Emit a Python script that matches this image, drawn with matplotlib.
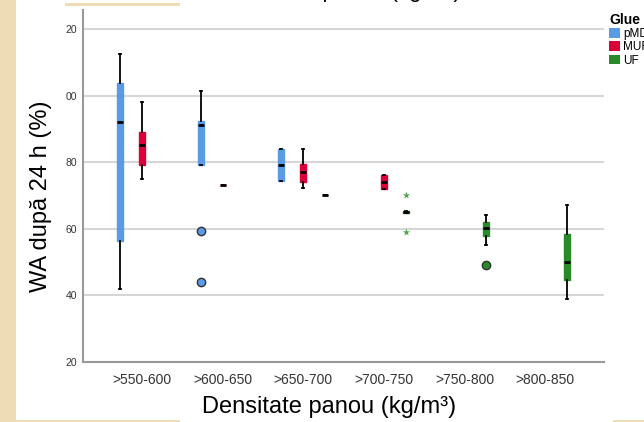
import matplotlib.pyplot as plt
from matplotlib.patches import Patch, Rectangle

plt.rcParams['font.family'] = ['Liberation Sans', 'DejaVu Sans']

# Categorii densitate
categories = ['>550-600', '>600-650', '>650-700', '>700-750', '>750-800', '>800-850']
ytick_vals = [20, 40, 60, 80, 100, 120]
ytick_text = ['20', '40', '60', '80', '00', '20']   # asa apar in imagine (cifra taiata)

# pMDI: categorie, min, q1, mediana, q3, max
pmdi_cat = [0, 1, 2]
pmdi_lo = [42.0, 79.3, 74.3]
pmdi_q1 = [56.4, 79.3, 74.3]
pmdi_med = [92.1, 91.1, 79.1]
pmdi_q3 = [103.7, 92.3, 83.9]
pmdi_hi = [112.6, 101.3, 83.9]
pmdi_out = [[], [59.2, 44.0], []]

# MUF
muf_cat = [0, 1, 2, 3]
muf_lo = [75.1, 73.1, 72.1, 72.0]
muf_q1 = [79.3, 73.1, 74.1, 72.0]
muf_med = [85.1, 73.1, 77.0, 74.1]
muf_q3 = [89.0, 73.1, 79.5, 76.1]
muf_hi = [98.1, 73.1, 84.1, 76.1]
muf_out = [[], [], [], []]

# UF
uf_cat = [2, 3, 4, 5]
uf_lo = [70.0, 64.6, 55.1, 39.0]
uf_q1 = [70.0, 64.6, 57.7, 44.6]
uf_med = [70.0, 65.0, 60.1, 50.0]
uf_q3 = [70.0, 65.3, 61.9, 58.4]
uf_hi = [70.0, 65.3, 64.1, 67.1]
uf_out = [[], [], [49.0], []]
uf_extreme_cat = [3, 3]
uf_extreme = [70.0, 59.1]

glues = ['pMDI', 'MUF', 'UF']
colors = {'pMDI': '#5A9BE6', 'MUF': '#DC0038', 'UF': '#2A8A2A'}
offsets = {'pMDI': -0.27, 'MUF': 0.0, 'UF': 0.27}

fig = plt.figure(figsize=(6.44, 4.22), dpi=100)
fig.patch.set_facecolor('#EEDCB4')
# zona alba a capturii
fig.patches.append(Rectangle((16 / 644, 2 / 422), 1 - 16 / 644, 1 - 2 / 422,
                             transform=fig.transFigure, facecolor='white',
                             edgecolor='none', zorder=-2))
fig.patches.append(Rectangle((65 / 644, 1 - 6 / 422), 115 / 644, 3 / 422,
                             transform=fig.transFigure, facecolor='#EEDCB4',
                             edgecolor='none', zorder=-1))
fig.patches.append(Rectangle((180 / 644, 0), 433 / 644, 2 / 422,
                             transform=fig.transFigure, facecolor='white',
                             edgecolor='none', zorder=-1))

ax = fig.add_axes([83 / 644, 60 / 422, 521 / 644, 352 / 422])
ax.set_facecolor('none')


def draw(glue, cats, lo, q1, med, q3, hi, out):
    stats = []
    for i in range(len(cats)):
        stats.append({'whislo': lo[i], 'q1': q1[i], 'med': med[i], 'q3': q3[i],
                      'whishi': hi[i], 'fliers': out[i]})
    pos = [c + offsets[glue] for c in cats]
    col = colors[glue]
    ax.bxp(stats, positions=pos, widths=0.075, patch_artist=True,
           showfliers=True, capwidths=0.025,
           boxprops=dict(facecolor=col, edgecolor=col, linewidth=1),
           medianprops=dict(color='black', linewidth=2),
           whiskerprops=dict(color='black', linewidth=1.3),
           capprops=dict(color='black', linewidth=1.3),
           flierprops=dict(marker='o', markerfacecolor=col, markeredgecolor='#333333',
                           markersize=6, markeredgewidth=1),
           zorder=3)


draw('pMDI', pmdi_cat, pmdi_lo, pmdi_q1, pmdi_med, pmdi_q3, pmdi_hi, pmdi_out)
draw('MUF', muf_cat, muf_lo, muf_q1, muf_med, muf_q3, muf_hi, muf_out)
draw('UF', uf_cat, uf_lo, uf_q1, uf_med, uf_q3, uf_hi, uf_out)

ax.scatter([c + offsets['UF'] for c in uf_extreme_cat], uf_extreme, marker='*',
           s=30, color='#4CA64C', linewidths=0, zorder=4)

ax.set_xlim(-0.73, 5.73)
ax.set_ylim(20, 125.7)
ax.set_xticks(range(len(categories)))
ax.set_xticklabels(categories, fontsize=10, color='#333333')
ax.set_yticks(ytick_vals)
ax.set_yticklabels(ytick_text, fontsize=7.5, color='#333333')
ax.tick_params(length=0, pad=4)
ax.tick_params(axis='x', pad=8)
for y in ytick_vals[1:]:
    ax.axhline(y, color='#D6D6D6', linewidth=1.5, zorder=1)

for s in ['top', 'right']:
    ax.spines[s].set_visible(False)
ax.spines['left'].set_color('#999999')
ax.spines['bottom'].set_color('#999999')
ax.spines['left'].set_linewidth(1.5)
ax.spines['bottom'].set_linewidth(1.5)

fig.text(41 / 644, 1 - 196 / 422, 'WA după 24 h (%)', rotation=90, fontsize=17,
         ha='center', va='center')
fig.text(329.5 / 644, 1 - 407 / 422, 'Densitate panou (kg/m³)', fontsize=17,
         ha='center', va='center')
# titlul, aproape complet taiat de marginea de sus
fig.text(341 / 644, 1 + 3 / 422, 'Densitate panou (kg/m³)', fontsize=16,
         ha='center', va='baseline')

handles = [Patch(facecolor=colors[g], edgecolor='none', label=g) for g in glues]
leg = fig.legend(handles=handles, title='Glue', loc='upper left',
                 bbox_to_anchor=(609 / 644, 1 - 13 / 422), frameon=False,
                 fontsize=8.5, title_fontproperties={'weight': 'bold', 'size': 10},
                 handlelength=0.9, handleheight=0.9, handletextpad=0.3,
                 labelspacing=0.1, borderpad=0, borderaxespad=0, alignment='left')

plt.savefig('out.png', dpi=100)
